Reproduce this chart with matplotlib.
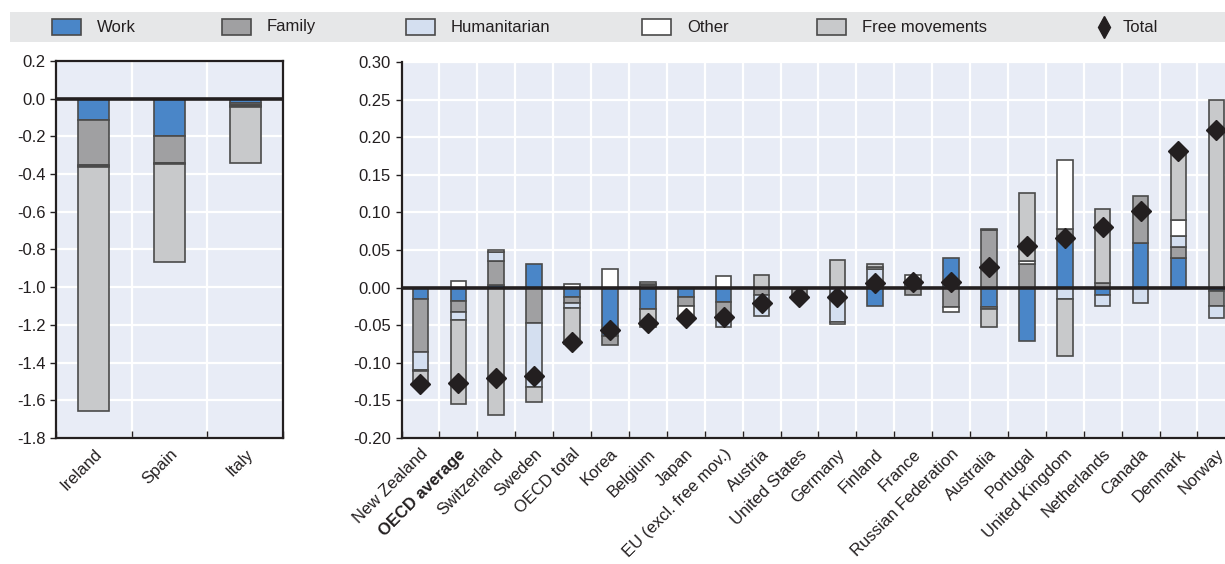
import numpy as np
import matplotlib.pyplot as plt
from matplotlib import font_manager
from matplotlib.patches import Rectangle
from matplotlib.lines import Line2D

installed = {f.name for f in font_manager.fontManager.ttflist}
FONT = 'Liberation Sans Narrow' if 'Liberation Sans Narrow' in installed else 'Liberation Sans'
plt.rcParams['font.family'] = [FONT, 'DejaVu Sans']

# Data
series = ["Work", "Family", "Humanitarian", "Other", "Free movements"]
colors = ["#4a86c8", "#a0a0a2", "#d4dff0", "#ffffff", "#c8c9cb"]

left_countries = ["Ireland", "Spain", "Italy"]
left_work = [-0.115, -0.200, -0.022]
left_family = [-0.235, -0.140, -0.012]
left_human = [-0.007, -0.003, -0.006]
left_other = [-0.003, -0.002, -0.002]
left_free = [-1.298, -0.520, -0.298]

countries = ["New Zealand", "OECD average", "Switzerland", "Sweden", "OECD total",
             "Korea", "Belgium", "Japan", "EU (excl. free mov.)", "Austria",
             "United States", "Germany", "Finland", "France", "Russian Federation",
             "Australia", "Portugal", "United Kingdom", "Netherlands", "Canada",
             "Denmark", "Norway"]
work = [-0.015, -0.018, 0.003, 0.031, -0.012, -0.065, -0.029, -0.012, -0.019, 0.0,
        -0.002, 0.0, -0.024, 0.003, 0.039, -0.026, -0.071, 0.069, -0.010, 0.059,
        0.040, -0.005]
family = [-0.070, -0.015, 0.032, -0.047, -0.008, -0.011, 0.004, -0.013, -0.021, -0.010,
          -0.008, 0.0, 0.0, -0.010, -0.026, 0.077, 0.032, 0.009, 0.006, 0.063,
          0.014, -0.020]
humanitarian = [-0.024, -0.010, 0.013, -0.085, -0.007, 0.0, 0.001, 0.0, -0.013, -0.028,
                -0.002, -0.046, 0.025, 0.002, 0.0, -0.002, 0.0, -0.015, -0.014, -0.020,
                0.015, -0.015]
other = [-0.002, 0.009, 0.002, 0.0, 0.005, 0.025, 0.002, -0.016, 0.016, 0.0,
         0.0, -0.002, 0.003, 0.012, -0.006, 0.001, 0.004, 0.092, 0.0, 0.0,
         0.021, 0.0]
free = [-0.018, -0.112, -0.170, -0.020, -0.048, 0.0, -0.024, 0.0, 0.0, 0.017,
        0.0, 0.037, 0.003, 0.0, 0.0, -0.024, 0.090, -0.076, 0.099, 0.0,
        0.091, 0.250]
total = [-0.128, -0.127, -0.120, -0.118, -0.073, -0.056, -0.047, -0.040, -0.039, -0.020,
         -0.012, -0.013, 0.006, 0.007, 0.008, 0.027, 0.055, 0.066, 0.081, 0.102,
         0.182, 0.209]

EDGE = "#4a4a4a"
DARK = "#231f20"
BG = "#e8ecf6"


def stacked(ax, comps, width):
    n = len(comps[0])
    x = np.arange(n)
    pos = np.zeros(n)
    neg = np.zeros(n)
    for vals, col in zip(comps, colors):
        vals = np.asarray(vals, dtype=float)
        base = np.where(vals >= 0, pos, neg)
        m = vals != 0
        ax.bar(x[m], vals[m], width, bottom=base[m], color=col,
               edgecolor=EDGE, linewidth=1.2, zorder=2)
        pos += np.clip(vals, 0, None)
        neg += np.clip(vals, None, 0)
    return x


def style(ax, n, labels):
    ax.set_facecolor(BG)
    ax.set_xlim(-0.5, n - 0.5)
    ax.set_xticks(np.arange(n))
    ax.set_xticklabels(labels, rotation=45, ha='right', rotation_mode='anchor',
                       fontsize=12, color=DARK)
    ax.set_xticks(np.arange(-0.5, n, 1), minor=True)
    ax.tick_params(axis='x', which='major', length=0, pad=6)
    ax.tick_params(axis='x', which='minor', direction='in', length=5, width=1, color=DARK)
    ax.tick_params(axis='y', length=4, width=1, color=DARK, labelsize=12, labelcolor=DARK)
    ax.grid(axis='x', which='minor', color='white', lw=1.6, zorder=0)
    ax.grid(axis='y', which='major', color='white', lw=1.6, zorder=0)
    ax.set_axisbelow(True)
    ax.axhline(0, color=DARK, lw=2.6, zorder=3)
    for s in ax.spines.values():
        s.set_color(DARK)
        s.set_linewidth(1.6)


fig = plt.figure(figsize=(12.25, 5.64), dpi=100)

# Left panel
axl = fig.add_axes([56 / 1225, 1 - 438 / 564, 227 / 1225, 377 / 564])
stacked(axl, [left_work, left_family, left_human, left_other, left_free], 0.41)
style(axl, 3, left_countries)
axl.set_ylim(-1.8, 0.2)
yt = np.round(np.arange(-1.8, 0.21, 0.2), 1)
axl.set_yticks(yt)
axl.set_yticklabels([f"{v + 0.0:.1f}".replace("-0.0", "0.0") for v in yt])

# Right panel
axr = fig.add_axes([401.5 / 1225, 1 - 438 / 564, (1225 - 401.5) / 1225, 376 / 564])
x = stacked(axr, [work, family, humanitarian, other, free], 0.41)
style(axr, len(countries), countries)
axr.set_xlim(-0.5, (1225 - 401.5) / 37.9 - 0.5)
axr.plot(x, total, linestyle='none', marker='D', markersize=10.5,
         color=DARK, zorder=4)
axr.set_ylim(-0.2, 0.3)
yt = np.round(np.arange(-0.2, 0.301, 0.05), 2)
axr.set_yticks(yt)
axr.set_yticklabels([f"{v + 0.0:.2f}".replace("-0.00", "0.00") for v in yt])
axr.spines['top'].set_visible(False)
axr.spines['right'].set_visible(False)
axr.get_xticklabels()[1].set_fontweight('bold')

# Legend band
W, H = 1225, 564
fig.add_artist(Rectangle((10 / W, 1 - 42 / H), 1215 / W, 30 / H,
                         transform=fig.transFigure, facecolor="#e6e7e8",
                         edgecolor='none', zorder=0))
sq_x = [52, 222, 406, 642, 817]
for name, col, sx in zip(series, colors, sq_x):
    fig.add_artist(Rectangle((sx / W, 1 - 35 / H), 29 / W, 16 / H,
                             transform=fig.transFigure, facecolor=col,
                             edgecolor=EDGE, linewidth=1.2))
    fig.text((sx + 45) / W, 1 - 27 / H, name, fontsize=12, color=DARK,
             va='center', ha='left')
fig.add_artist(Line2D([1104 / W], [1 - 27 / H], marker='d', markersize=11,
                      color=DARK, transform=fig.transFigure))
fig.text(1123 / W, 1 - 27 / H, "Total", fontsize=12, color=DARK, va='center', ha='left')

fig.savefig("out.png", dpi=100)
